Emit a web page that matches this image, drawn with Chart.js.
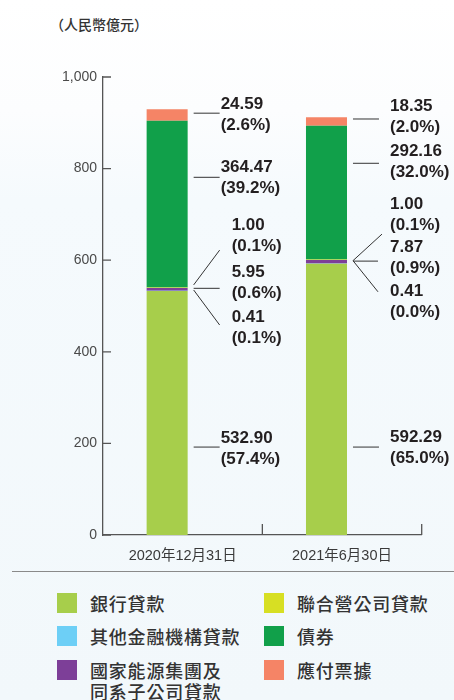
<!DOCTYPE html>
<html>
<head>
<meta charset="utf-8">
<script src="https://cdn.jsdelivr.net/npm/chart.js@4.4.1/dist/chart.umd.min.js"></script>
<style>
  html, body { margin: 0; padding: 0; }
  body {
    width: 454px; height: 700px; position: relative; overflow: hidden;
    background: linear-gradient(to bottom, #ffffff 0px, #fcfdfe 110px, #f5fafd 200px, #f2f8fb 700px);
    font-family: "Noto Sans CJK TC", "Noto Sans CJK SC", sans-serif;
  }
  #unit { position: absolute; left: 50px; top: 14px; font-size: 14px; line-height: 20px; color: #333; font-weight: 500; }
  #chart { position: absolute; left: 0; top: 0; }
  #rule { position: absolute; left: 12px; right: 0; top: 571px; height: 1px; background: #8a8a8a; }
  #legend {
    position: absolute; left: 57px; top: 593px;
    display: grid; grid-auto-flow: column;
    grid-template-columns: 207px 180px;
    grid-template-rows: repeat(3, 33.4px);
  }
  .item { display: flex; align-items: flex-start; }
  .sw { width: 20px; height: 20px; flex: none; margin-right: 13px; }
  .tx { font-size: 18px; letter-spacing: 0.8px; color: #333; line-height: 21.7px;
        white-space: pre-line; margin-top: 0px; font-weight: 500; }
</style>
</head>
<body>
<div id="unit">（人民幣億元）</div>
<canvas id="chart" width="454" height="575"></canvas>
<div id="rule"></div>
<div id="legend"></div>
<script>
// Balance dates
const categories = ['2020年12月31日', '2021年6月30日'];

// Amounts (RMB 100 million), bottom of the stack first
const bankLoans = [532.90, 592.29];
const otherInstitutionLoans = [0.41, 0.41];
const groupLoans = [5.95, 7.87];
const jointVentureLoans = [1.00, 1.00];
const bonds = [364.47, 292.16];
const notesPayable = [24.59, 18.35];

// Share of total (%)
const bankShare = [57.4, 65.0];
const otherInstitutionShare = [0.1, 0.0];
const groupShare = [0.6, 0.9];
const jointVentureShare = [0.1, 0.1];
const bondShare = [39.2, 32.0];
const notesShare = [2.6, 2.0];

// Value axis ticks
const yTicks = [0, 200, 400, 600, 800, 1000];

const seriesNames = ['銀行貸款', '其他金融機構貸款', '國家能源集團及\n同系子公司貸款', '聯合營公司貸款', '債券', '應付票據'];
const seriesColors = ['#a7ce4b', '#6dcff6', '#7d3f98', '#d7df23', '#11a04a', '#f58466'];

const seriesValues = [bankLoans, otherInstitutionLoans, groupLoans, jointVentureLoans, bonds, notesPayable];
const seriesShares = [bankShare, otherInstitutionShare, groupShare, jointVentureShare, bondShare, notesShare];

// Callout placement for each series and date: leader from/to and text centre in axis units,
// horizontal offsets in px from the bar's right edge
const calloutLayout = [
  [{ from: 192, to: 192, text: 189, lineEnd: 32, textDx: 33 }, { from: 192, to: 192, text: 190, lineEnd: 32, textDx: 43 }],
  [{ from: 535, to: 458.5, text: 453, lineEnd: 32, textDx: 44 }, { from: 599, to: 531, text: 509.4, lineEnd: 31, textDx: 43 }],
  [{ from: 538.6, to: 538.6, text: 551.3, lineEnd: 32, textDx: 44 }, { from: 598, to: 598, text: 606, lineEnd: 31, textDx: 43 }],
  [{ from: 546, to: 622, text: 653, lineEnd: 32, textDx: 44 }, { from: 599, to: 657, text: 698.3, lineEnd: 35, textDx: 43 }],
  [{ from: 781, to: 781, text: 779.5, lineEnd: 32, textDx: 33 }, { from: 811.6, to: 811.6, text: 814, lineEnd: 32, textDx: 43 }],
  [{ from: 921, to: 921, text: 917, lineEnd: 32, textDx: 33 }, { from: 908.3, to: 908.3, text: 913.3, lineEnd: 32, textDx: 43 }]
];

const axisColor = '#555555';

const datasets = seriesValues.map((vals, i) => ({
  label: seriesNames[i],
  data: vals,
  backgroundColor: seriesColors[i],
  borderWidth: 0,
  stack: 'debt'
}));
// empty neighbour stack so each bar sits left of its date label
datasets.push({ label: '', data: categories.map(() => 0), backgroundColor: 'rgba(0,0,0,0)', borderWidth: 0, stack: 'spacer' });

const axisMarks = {
  id: 'axisMarks',
  afterDraw(chart) {
    const { ctx, chartArea, scales: { x, y } } = chart;
    ctx.save();
    ctx.strokeStyle = axisColor;
    ctx.lineWidth = 1.3;
    ctx.beginPath();
    y.ticks.forEach(t => {
      const py = y.getPixelForValue(t.value);
      ctx.moveTo(chartArea.left, py);
      ctx.lineTo(chartArea.left + 8, py);
    });
    for (let i = 1; i <= categories.length; i++) {
      const px = i < categories.length
        ? (x.getPixelForValue(i - 1) + x.getPixelForValue(i)) / 2
        : chartArea.right;
      ctx.moveTo(px, chartArea.bottom);
      ctx.lineTo(px, chartArea.bottom - 11);
    }
    ctx.stroke();
    ctx.restore();
  }
};

const callouts = {
  id: 'callouts',
  afterDatasetsDraw(chart) {
    const { ctx, scales: { y } } = chart;
    ctx.save();
    ctx.font = 'bold 17px "Liberation Sans", Arial, sans-serif';
    ctx.fillStyle = '#231f20';
    ctx.textAlign = 'left';
    ctx.textBaseline = 'middle';
    seriesValues.forEach((vals, s) => {
      const meta = chart.getDatasetMeta(s);
      vals.forEach((v, c) => {
        const bar = meta.data[c];
        const L = calloutLayout[s][c];
        const right = bar.x + bar.width / 2;
        ctx.strokeStyle = '#333';
        ctx.lineWidth = 1;
        ctx.beginPath();
        ctx.moveTo(right + 6, y.getPixelForValue(L.from));
        ctx.lineTo(right + L.lineEnd, y.getPixelForValue(L.to));
        ctx.stroke();
        const ty = y.getPixelForValue(L.text);
        ctx.fillText(v.toFixed(2), right + L.textDx, ty - 10.5);
        ctx.fillText('(' + seriesShares[s][c].toFixed(1) + '%)', right + L.textDx, ty + 10.5);
      });
    });
    ctx.restore();
  }
};

new Chart(document.getElementById('chart'), {
  type: 'bar',
  data: { labels: categories, datasets },
  options: {
    responsive: false,
    animation: false,
    layout: { padding: { top: 77, right: 32.3, bottom: 0, left: 0 } },
    categoryPercentage: 0.39,
    barPercentage: 1.32,
    plugins: { legend: { display: false }, tooltip: { enabled: false } },
    scales: {
      x: {
        stacked: true,
        grid: { display: false, drawTicks: false },
        border: { display: true, color: axisColor, width: 1.3 },
        ticks: {
          padding: 12,
          color: '#3a3a3a',
          font: { family: '"Liberation Sans", "Noto Sans CJK TC", sans-serif', size: 14.5 }
        },
        afterFit(scale) { scale.height = 40; }
      },
      y: {
        stacked: true,
        min: yTicks[0],
        max: yTicks[yTicks.length - 1],
        grid: { display: false, drawTicks: false },
        border: { display: true, color: axisColor, width: 1.3 },
        afterBuildTicks(scale) { scale.ticks = yTicks.map(v => ({ value: v })); },
        ticks: {
          padding: 6,
          color: '#4a4a4a',
          font: { family: '"Liberation Sans", Arial, sans-serif', size: 14 },
          callback: v => v.toLocaleString('en-US')
        },
        afterFit(scale) { scale.width = 103; }
      }
    }
  },
  plugins: [axisMarks, callouts]
});

// Legend, filled column by column in stacking order
const legend = document.getElementById('legend');
seriesNames.forEach((name, i) => {
  const item = document.createElement('div');
  item.className = 'item';
  const sw = document.createElement('div');
  sw.className = 'sw';
  sw.style.background = seriesColors[i];
  const tx = document.createElement('div');
  tx.className = 'tx';
  tx.textContent = name;
  item.appendChild(sw);
  item.appendChild(tx);
  legend.appendChild(item);
});
</script>
</body>
</html>
